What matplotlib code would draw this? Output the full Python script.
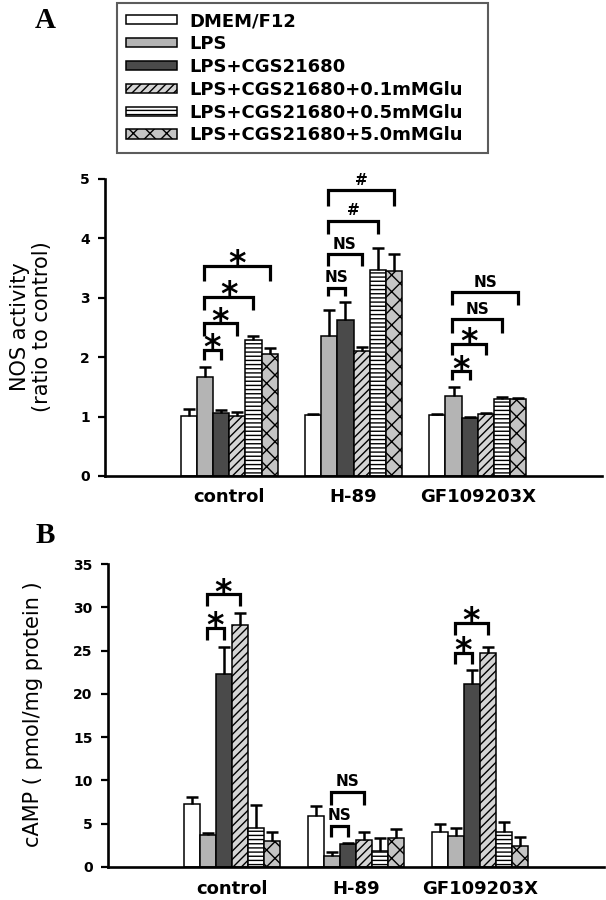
import matplotlib
matplotlib.use("Agg")
import matplotlib.pyplot as plt
import numpy as np
from matplotlib.patches import Patch

plt.rcParams['font.family'] = ['DejaVu Sans']
plt.rcParams['hatch.linewidth'] = 1.0

# ---------------- data ----------------
groups = ['control', 'H-89', 'GF109203X']
treatments = ['DMEM/F12', 'LPS', 'LPS+CGS21680', 'LPS+CGS21680+0.1mMGlu',
              'LPS+CGS21680+0.5mMGlu', 'LPS+CGS21680+5.0mMGlu']

nos_control = [1.01, 1.67, 1.06, 1.01, 2.29, 2.05]
nos_control_err = [0.12, 0.16, 0.05, 0.07, 0.07, 0.10]
nos_h89 = [1.02, 2.36, 2.63, 2.10, 3.46, 3.45]
nos_h89_err = [0.03, 0.43, 0.30, 0.08, 0.37, 0.29]
nos_gf = [1.03, 1.35, 0.97, 1.04, 1.30, 1.29]
nos_gf_err = [0.02, 0.15, 0.02, 0.02, 0.03, 0.03]

camp_control = [7.27, 3.7, 22.3, 28.0, 4.54, 3.0]
camp_control_err = [0.85, 0.2, 3.1, 1.3, 2.6, 1.1]
camp_h89 = [5.89, 1.27, 2.6, 3.1, 1.9, 3.4]
camp_h89_err = [1.15, 0.5, 0.2, 1.0, 1.5, 0.95]
camp_gf = [4.08, 3.62, 21.1, 24.7, 4.08, 2.46]
camp_gf_err = [0.9, 0.9, 1.6, 0.75, 1.1, 1.0]

nos_ticks = [0, 1, 2, 3, 4, 5]
camp_ticks = [0, 5, 10, 15, 20, 25, 30, 35]

# significance brackets: (group, bar_from, bar_to, top, leg_bottom, label)
brackets_A = [
    (0, 1, 2, 2.12, 1.95, '*'), (0, 1, 3, 2.57, 2.36, '*'),
    (0, 1, 4, 3.02, 2.80, '*'), (0, 1, 5, 3.54, 3.29, '*'),
    (1, 1, 2, 3.17, 3.03, 'NS'), (1, 1, 3, 3.73, 3.54, 'NS'),
    (1, 1, 4, 4.30, 4.07, '#'), (1, 1, 5, 4.81, 4.55, '#'),
    (2, 1, 2, 1.76, 1.62, '*'), (2, 1, 3, 2.23, 2.04, '*'),
    (2, 1, 4, 2.64, 2.41, 'NS'), (2, 1, 5, 3.09, 2.88, 'NS'),
]
brackets_B = [
    (0, 1, 2, 27.6, 26.2, '*'), (0, 1, 3, 31.5, 30.1, '*'),
    (1, 1, 2, 4.73, 3.5, 'NS'), (1, 1, 3, 8.7, 7.2, 'NS'),
    (2, 1, 2, 24.7, 23.5, '*'), (2, 1, 3, 28.2, 26.8, '*'),
]

# ---------------- styles ----------------
faces = ['white', '#b4b4b4', '#4a4a4a', '#d4d4d4', 'white', '#c4c4c4']
hatches = [None, None, None, '////', '----', 'xx']
W = 0.13
gx = np.arange(1, len(groups) + 1)

fig = plt.figure(figsize=(6.06, 9.0), dpi=100)
axA = fig.add_axes([105 / 606, 1 - 476 / 900, 497 / 606, 297 / 900])
axB = fig.add_axes([108 / 606, 1 - 867 / 900, 496 / 606, 303 / 900])


def draw(ax, series, errs, ticks, brackets):
    vals = np.array(series)  # shape (groups, treatments)
    er = np.array(errs)
    for i in range(len(treatments)):
        xs = gx + (i - 2.5) * W
        ax.bar(xs, vals[:, i], width=W, color=faces[i], edgecolor='black',
               linewidth=1.1, hatch=hatches[i], zorder=2)
        e = ax.errorbar(xs, vals[:, i], yerr=[np.zeros(len(groups)), er[:, i]],
                        fmt='none', ecolor='black', elinewidth=1.8,
                        capsize=4.5, capthick=1.8, zorder=3)
        caps = e[1]
        if len(caps) == 2:
            caps[0].set_visible(False)
    for g, a, b, top, bot, lab in brackets:
        x1 = gx[g] + (a - 2.5) * W - 0.01
        x2 = gx[g] + (b - 2.5) * W
        ax.plot([x1, x1, x2, x2], [bot, top, top, bot], color='black',
                lw=2.3, solid_joinstyle='miter', solid_capstyle='butt',
                zorder=4, clip_on=False)
        xc = (x1 + x2) / 2
        if lab == '*':
            fs = 24
            ax.annotate(lab, xy=(xc, top), xytext=(0, 8 - 0.58 * fs),
                        textcoords='offset points', ha='center', va='baseline',
                        fontsize=fs, fontweight='bold', zorder=5)
        else:
            fs = 11
            ax.annotate(lab, xy=(xc, top), xytext=(0, 8 - 0.36 * fs),
                        textcoords='offset points', ha='center', va='baseline',
                        fontsize=fs, fontweight='bold', zorder=5)
    ax.set_xlim(0, 4)
    ax.set_ylim(ticks[0], ticks[-1])
    ax.set_yticks(ticks)
    ax.set_xticks(gx)
    ax.set_xticklabels(groups, fontsize=13, fontweight='bold')
    ax.tick_params(axis='x', length=0, pad=9)
    ax.tick_params(axis='y', length=5, width=1.6, pad=6, labelsize=10)
    for t in ax.get_yticklabels():
        t.set_fontweight('bold')
    for s in ['top', 'right']:
        ax.spines[s].set_visible(False)
    for s in ['left', 'bottom']:
        ax.spines[s].set_linewidth(1.9)


draw(axA, [nos_control, nos_h89, nos_gf], [nos_control_err, nos_h89_err, nos_gf_err],
     nos_ticks, brackets_A)
draw(axB, [camp_control, camp_h89, camp_gf], [camp_control_err, camp_h89_err, camp_gf_err],
     camp_ticks, brackets_B)

fig.text(31 / 606, 1 - 327 / 900, 'NOS activity\n(ratio to control)', rotation=90,
         ha='center', va='center', fontsize=15, linespacing=1.15)
fig.text(33 / 606, 1 - 714 / 900, 'cAMP ( pmol/mg protein )', rotation=90,
         ha='center', va='center', fontsize=15)

fig.text(45 / 606, 1 - 28 / 900, 'A', ha='center', va='baseline', fontsize=21,
         fontweight='bold', family='Liberation Serif')
fig.text(45 / 606, 1 - 543 / 900, 'B', ha='center', va='baseline', fontsize=21,
         fontweight='bold', family='Liberation Serif')

handles = [Patch(facecolor=faces[i], edgecolor='black', linewidth=1.1, hatch=hatches[i])
           for i in range(len(treatments))]
leg = fig.legend(handles, treatments, loc='upper left',
                 bbox_to_anchor=(117 / 606, 1 - 155 / 900, 371 / 606, 152 / 900),
                 mode='expand', borderaxespad=0, fancybox=False, frameon=True,
                 handlelength=2.8, handleheight=0.4, handletextpad=0.7,
                 labelspacing=0.27, borderpad=0.5,
                 prop={'weight': 'bold', 'size': 13})
leg.get_frame().set_edgecolor('#333333')
leg.get_frame().set_linewidth(1.5)

fig.savefig('out.png', dpi=100)
